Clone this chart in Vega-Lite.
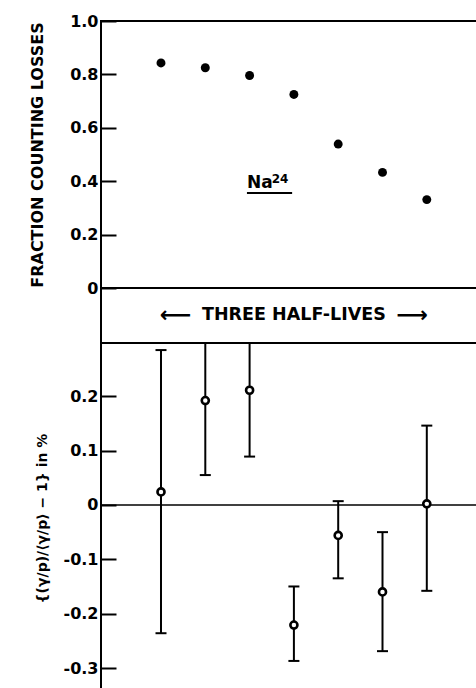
{
  "$schema": "https://vega.github.io/schema/vega-lite/v6.json",
  "padding": {"left": 28, "top": 12, "right": 0, "bottom": 0},
  "spacing": 0,
  "bounds": "flush",
  "background": "white",
  "config": {
    "view": {"stroke": "black", "strokeWidth": 2},
    "font": "DejaVu Sans",
    "axis": {
      "domain": false, "grid": false, "ticks": true, "tickSize": -15, "tickWidth": 2, "tickColor": "black",
      "labelFont": "DejaVu Sans", "labelFontSize": 16, "labelFontWeight": "bold", "labelColor": "black", "labelPadding": 18,
      "titleFont": "DejaVu Sans", "titleFontSize": 16, "titleFontWeight": "bold", "titleColor": "black"
    }
  },
  "datasets": {
    "top": [
      {"n": 1, "f": 0.843}, {"n": 2, "f": 0.825}, {"n": 3, "f": 0.796}, {"n": 4, "f": 0.725},
      {"n": 5, "f": 0.539}, {"n": 6, "f": 0.433}, {"n": 7, "f": 0.331}
    ],
    "dev": [
      {"n": 1, "v": 0.024, "lo": -0.236, "hi": 0.285},
      {"n": 2, "v": 0.192, "lo": 0.055, "hi": 0.34},
      {"n": 3, "v": 0.211, "lo": 0.089, "hi": 0.34},
      {"n": 4, "v": -0.221, "lo": -0.287, "hi": -0.150},
      {"n": 5, "v": -0.056, "lo": -0.135, "hi": 0.007},
      {"n": 6, "v": -0.160, "lo": -0.269, "hi": -0.050},
      {"n": 7, "v": 0.002, "lo": -0.158, "hi": 0.146}
    ]
  },
  "vconcat": [
    {
      "width": 380, "height": 267,
      "layer": [
        {
          "data": {"name": "top"},
          "mark": {"type": "circle", "size": 80, "color": "black", "opacity": 1},
          "encoding": {
            "x": {"field": "n", "type": "quantitative", "scale": {"domain": [-0.3544, 8.2235], "nice": false, "zero": false}, "axis": null},
            "y": {"field": "f", "type": "quantitative", "scale": {"domain": [0, 1], "nice": false},
                  "axis": {"title": "FRACTION COUNTING LOSSES", "values": [0, 0.2, 0.4, 0.6, 0.8, 1], "labelExpr": "datum.value == 0 ? '0' : format(datum.value, '.1f')", "titlePadding": 24}}
          }
        },
        {
          "data": {"values": [{"x": 2.94, "y": 0.374, "text": "Na"}]},
          "mark": {"type": "text", "align": "left", "baseline": "alphabetic", "fontSize": 17, "fontWeight": "bold", "color": "black"},
          "encoding": {
            "x": {"field": "x", "type": "quantitative"},
            "y": {"field": "y", "type": "quantitative"},
            "text": {"field": "text"}
          }
        },
        {
          "data": {"values": [{"x": 3.50, "y": 0.395, "text": "24"}]},
          "mark": {"type": "text", "align": "left", "baseline": "alphabetic", "fontSize": 12, "fontWeight": "bold", "color": "black"},
          "encoding": {
            "x": {"field": "x", "type": "quantitative"},
            "y": {"field": "y", "type": "quantitative"},
            "text": {"field": "text"}
          }
        },
        {
          "data": {"values": [{"x": 2.94, "x2": 3.96, "y": 0.356}]},
          "mark": {"type": "rule", "strokeWidth": 2, "color": "black"},
          "encoding": {
            "x": {"field": "x", "type": "quantitative"},
            "x2": {"field": "x2"},
            "y": {"field": "y", "type": "quantitative"}
          }
        }
      ]
    },
    {
      "width": 380, "height": 55,
      "encoding": {
        "x": {"field": "x", "type": "quantitative", "scale": {"domain": [-0.3544, 8.2235], "nice": false, "zero": false}, "axis": null},
        "y": {"datum": 0, "type": "quantitative", "scale": {"domain": [-1, 1]}, "axis": null},
        "text": {"field": "text"}
      },
      "layer": [
        {
          "data": {"values": [{"x": 4.0, "text": "THREE   HALF-LIVES"}]},
          "mark": {"type": "text", "fontSize": 17.5, "fontWeight": "bold", "color": "black", "baseline": "middle", "dy": -1}
        },
        {
          "data": {"values": [{"x": 1.33, "text": "⟵"}, {"x": 6.67, "text": "⟶"}]},
          "mark": {"type": "text", "fontSize": 22, "fontWeight": "bold", "color": "black", "baseline": "middle", "dy": -1}
        }
      ]
    },
    {
      "width": 380, "height": 350,
      "layer": [
        {
          "data": {"values": [{"z": 0}]},
          "mark": {"type": "rule", "strokeWidth": 1.5, "color": "black"},
          "encoding": {
            "y": {"field": "z", "type": "quantitative", "scale": {"domain": [-0.346, 0.298], "nice": false, "zero": false}}
          }
        },
        {
          "data": {"name": "dev"},
          "mark": {"type": "rule", "strokeWidth": 2, "color": "black", "clip": true},
          "encoding": {
            "x": {"field": "n", "type": "quantitative", "scale": {"domain": [-0.3544, 8.2235], "nice": false, "zero": false}, "axis": null},
            "y": {"field": "lo", "type": "quantitative"},
            "y2": {"field": "hi"}
          }
        },
        {
          "data": {"name": "dev"},
          "mark": {"type": "tick", "orient": "horizontal", "size": 11, "thickness": 2, "color": "black", "opacity": 1, "clip": true},
          "encoding": {
            "x": {"field": "n", "type": "quantitative"},
            "y": {"field": "lo", "type": "quantitative"}
          }
        },
        {
          "data": {"name": "dev"},
          "mark": {"type": "tick", "orient": "horizontal", "size": 11, "thickness": 2, "color": "black", "opacity": 1, "clip": true},
          "encoding": {
            "x": {"field": "n", "type": "quantitative"},
            "y": {"field": "hi", "type": "quantitative"}
          }
        },
        {
          "data": {"name": "dev"},
          "mark": {"type": "point", "shape": "circle", "size": 50, "filled": false, "fill": "white", "fillOpacity": 1, "stroke": "black", "strokeWidth": 2.6, "opacity": 1},
          "encoding": {
            "x": {"field": "n", "type": "quantitative"},
            "y": {"field": "v", "type": "quantitative",
                  "axis": {"title": "{(γ/p)/⟨γ/p⟩ − 1} in %", "values": [-0.3, -0.2, -0.1, 0, 0.1, 0.2], "labelExpr": "datum.value == 0 ? '0' : replace(format(datum.value, '.1f'), '−', '-')", "titlePadding": 14, "titleFontSize": 14}}
          }
        }
      ]
    }
  ]
}
